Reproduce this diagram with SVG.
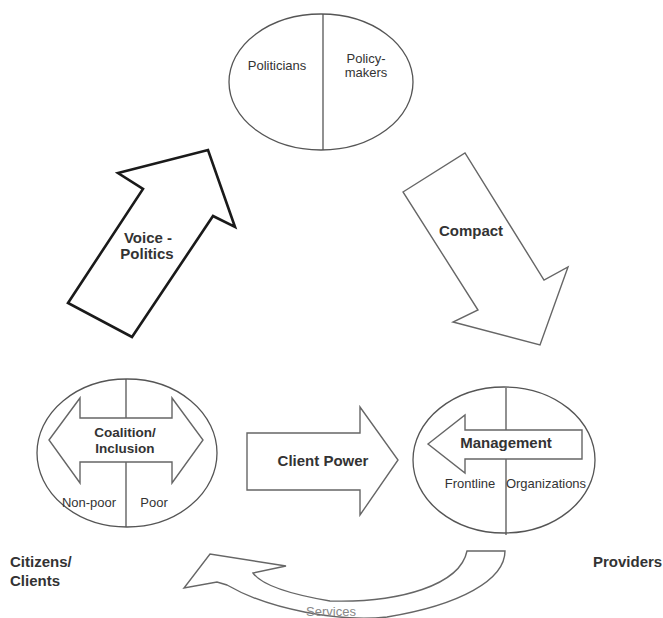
<svg xmlns="http://www.w3.org/2000/svg" width="663" height="618" viewBox="0 0 663 618">
<style>
.ell{fill:#fff;stroke:#555;stroke-width:1.3}
.div{stroke:#555;stroke-width:1.3;fill:none}
.arr{fill:#fff;stroke:#666;stroke-width:1.4;stroke-linejoin:miter}
.arrk{fill:#fff;stroke:#1a1a1a;stroke-width:2.6;stroke-linejoin:miter}
.t{font-family:"Liberation Sans",Arial,sans-serif;fill:#333;text-anchor:middle}
.s{text-anchor:start}
.b{font-weight:bold}
.g{fill:#888}
</style>
<rect width="663" height="618" fill="#fff"/>
<g id="politicians-node">
<ellipse class="ell" cx="321" cy="82" rx="92" ry="68"/>
<line class="div" x1="323" y1="14" x2="323" y2="150"/>
<text class="t" x="277" y="70" font-size="13">Politicians</text>
<text class="t" x="366" y="63" font-size="13">Policy-</text>
<text class="t" x="366" y="77" font-size="13">makers</text>
</g>
<g id="citizens-node">
<ellipse class="ell" cx="127" cy="453" rx="90" ry="74"/>
<line class="div" x1="126" y1="379" x2="126" y2="527"/>
<polygon class="arr" points="49,440 80,398 80,418 172,418 172,398 203,440 172,483 172,462 80,462 80,483"/>
<text class="t b" x="125" y="437" font-size="13.5">Coalition/</text>
<text class="t b" x="125" y="453" font-size="13.5">Inclusion</text>
<text class="t" x="89" y="507" font-size="13">Non-poor</text>
<text class="t" x="154" y="507" font-size="13">Poor</text>
<text class="t b s" x="10" y="567" font-size="15">Citizens/</text>
<text class="t b s" x="10" y="586" font-size="15">Clients</text>
</g>
<g id="providers-node">
<ellipse class="ell" cx="504" cy="460" rx="91" ry="73"/>
<line class="div" x1="506" y1="388" x2="506" y2="535"/>
<polygon class="arr" points="428,444 465,415 465,430 582,430 582,459 465,459 465,473"/>
<text class="t b" x="506" y="448" font-size="15">Management</text>
<text class="t" x="470" y="488" font-size="13">Frontline</text>
<text class="t" x="546" y="488" font-size="13">Organizations</text>
<text class="t b s" x="593" y="567" font-size="15">Providers</text>
</g>
<g id="connectors">
<g id="voice-politics">
<polygon class="arrk" points="68,303 143,189 118,173 208,150 235,227 213,216 132,337"/>
<text class="t b" x="148" y="243" font-size="15">Voice -</text>
<text class="t b" x="147" y="259" font-size="15">Politics</text>
</g>
<g id="compact">
<polygon class="arr" points="403,192 465,153 544,280 568,267 540,345 453,322 478,310"/>
<text class="t b" x="471" y="236" font-size="15">Compact</text>
</g>
<g id="client-power">
<polygon class="arr" points="247,433 360,433 360,407 398,460 360,515 360,490 247,490"/>
<text class="t b" x="323" y="466" font-size="15">Client Power</text>
</g>
<g id="services">
<path class="arr" d="M467,551 L505,551 C505,580 460,605 387,617 C340,622 270,610 227,585 L217,582 L184,588 L210,554 L286,566 L253,573 Q265,590 330,601 C400,603 460,585 467,551 Z"/>
<text class="t g" x="331" y="616" font-size="13">Services</text>
</g>
</g>
</svg>
